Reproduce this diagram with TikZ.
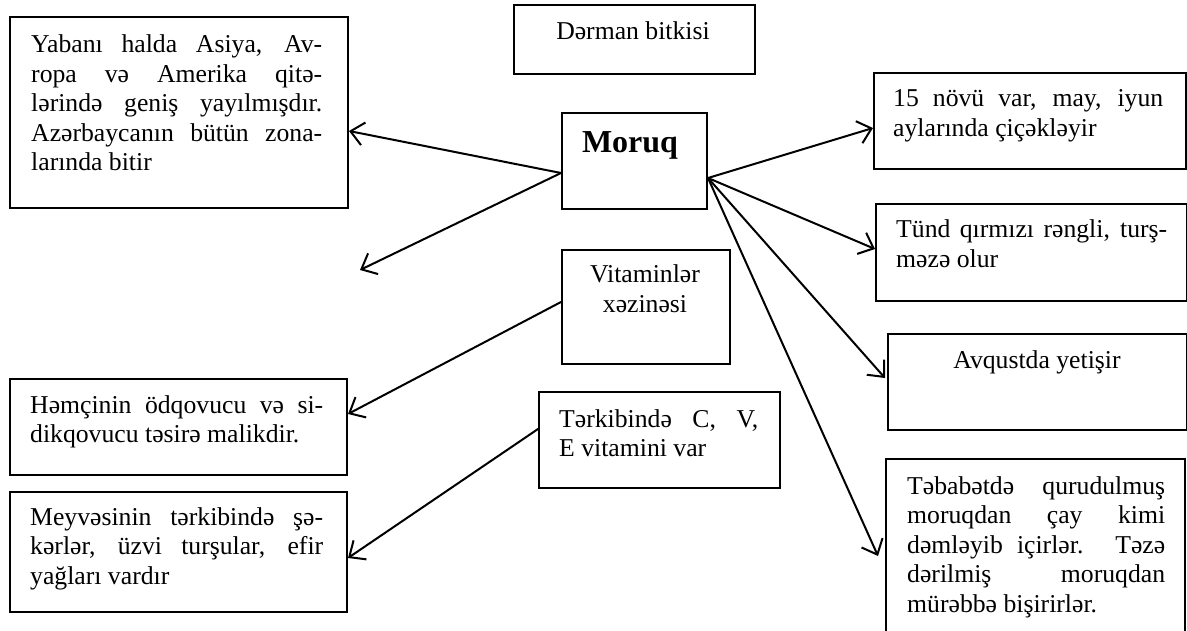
\documentclass[tikz,border=0pt]{standalone}
\usepackage{fontspec}
\setmainfont{Liberation Serif}
\usetikzlibrary{arrows.meta}
\newcommand\jl[2]{\makebox[#1][s]{#2}}
\begin{document}
\begin{tikzpicture}[x=1pt,y=-1pt,
  bx/.style={draw, line width=2pt, inner sep=0pt, anchor=north west},
  tx/.style={inner sep=0pt, font=\fontsize{25.7}{29.5}\selectfont},
  ar/.style={line width=2pt, line cap=round, -{Straight Barb[length=13pt,width=23pt,line width=2pt]}}]
\clip (0,0) rectangle (1187,631);
% boxes
\node[bx, minimum width=338pt, minimum height=191pt] (yab) at (9,16) {};
\node[bx, minimum width=241pt, minimum height=69pt] (der) at (513,4) {};
\node[bx, minimum width=145pt, minimum height=96pt] (mor) at (561,112) {};
\node[bx, minimum width=312pt, minimum height=96pt] (nov) at (873,72) {};
\node[bx, minimum width=311pt, minimum height=97pt] (tun) at (875,203) {};
\node[bx, minimum width=168pt, minimum height=114pt] (vit) at (561,249) {};
\node[bx, minimum width=299pt, minimum height=96pt] (avq) at (887,333) {};
\node[bx, minimum width=299pt, minimum height=182pt] (tab) at (885,458) {};
\node[bx, minimum width=241pt, minimum height=96pt] (ter) at (538,391) {};
\node[bx, minimum width=337pt, minimum height=96pt] (hem) at (9,378) {};
\node[bx, minimum width=337pt, minimum height=120pt] (mey) at (9,491) {};
% texts
\node[tx, anchor=base west] (yabt) at (31,53) {\parbox[t]{291pt}{%
  \jl{291pt}{Yabanı halda Asiya, Av-}\\
  \jl{291pt}{ropa və Amerika qitə-}\\
  \jl{291pt}{lərində geniş yayılmışdır.}\\
  \jl{291pt}{Azərbaycanın bütün zona-}\\
  larında bitir}};
\node[tx, anchor=base] (dert) at (633,40) {Dərman bitkisi};
\node[inner sep=0pt, font=\fontsize{32}{36}\selectfont\bfseries, anchor=base] (mort) at (630,153) {Moruq};
\node[tx, anchor=base west] (novt) at (893,107) {\parbox[t]{270pt}{%
  \jl{270pt}{15 növü var, may, iyun}\\
  aylarında çiçəkləyir}};
\node[tx, anchor=base west] (tunt) at (896,238) {\parbox[t]{271pt}{%
  \jl{271pt}{Tünd qırmızı rəngli, turş-}\\
  məzə olur}};
\node[tx, anchor=base] (vitt) at (645,283) {\parbox[t]{160pt}{\centering
  Vitaminlər\\ xəzinəsi}};
\node[tx, anchor=base] (avqt) at (1037,368) {Avqustda yetişir};
\node[tx, anchor=base west] (tabt) at (907,494) {\parbox[t]{258pt}{%
  \jl{258pt}{Təbabətdə qurudulmuş}\\
  \jl{258pt}{moruqdan çay kimi}\\
  \jl{258pt}{dəmləyib içirlər. Təzə}\\
  \jl{258pt}{dərilmiş moruqdan}\\
  mürəbbə bişirirlər.}};
\node[tx, anchor=base west] (tert) at (559,427) {\parbox[t]{199pt}{%
  \jl{199pt}{Tərkibində C, V,}\\
  E vitamini var}};
\node[tx, anchor=base west] (hemt) at (30,413) {\parbox[t]{293pt}{%
  \jl{293pt}{Həmçinin ödqovucu və si-}\\
  dikqovucu təsirə malikdir.}};
\node[tx, anchor=base west] (meyt) at (30,525) {\parbox[t]{293pt}{%
  \jl{293pt}{Meyvəsinin tərkibində şə-}\\
  \jl{293pt}{kərlər, üzvi turşular, efir}\\
  yağları vardır}};
% connectors
\coordinate (free) at (360,270);
\draw[ar] ([yshift=-12pt]mor.west) -- ([yshift=-18.5pt]yab.east);
\draw[ar] ([yshift=-12pt]mor.west) -- (free);
\draw[ar] ([yshift=-17pt]mor.east) -- ([yshift=-7pt]nov.west);
\draw[ar] ([yshift=-17pt]mor.east) -- ([yshift=3.5pt]tun.west);
\draw[ar] ([yshift=-17pt]mor.east) -- ([xshift=-2pt,yshift=4pt]avq.west);
\draw[ar] ([yshift=-17pt]mor.east) -- ([xshift=-7pt,yshift=-6pt]tab.west);
\draw[ar] ([yshift=5pt]vit.west) -- ([yshift=13pt]hem.east);
\draw[ar] ([yshift=11pt]ter.west) -- ([yshift=-6pt]mey.east);
\end{tikzpicture}
\end{document}
